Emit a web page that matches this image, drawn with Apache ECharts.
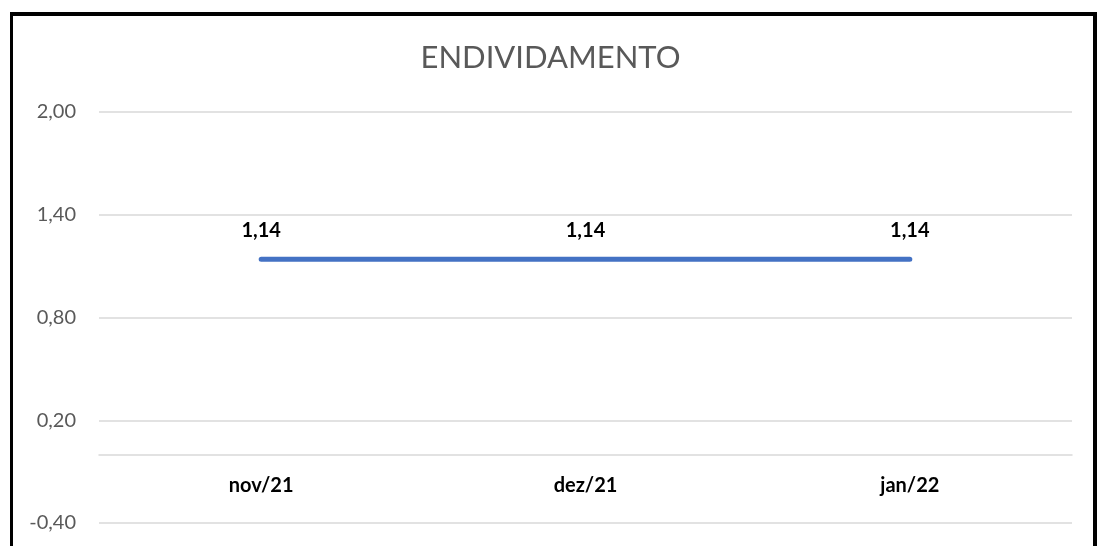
<!DOCTYPE html>
<html>
<head>
<meta charset="utf-8">
<script src="https://cdn.jsdelivr.net/npm/echarts@6/dist/echarts.min.js"></script>
<style>
html,body{margin:0;padding:0;background:#fff;overflow:hidden;}
#chart{position:absolute;left:0;top:0;width:1101px;height:546px;}
#frame{position:absolute;left:10px;top:12px;width:1087px;height:560px;border:4px solid #000;border-left-width:3px;box-sizing:border-box;pointer-events:none;}
</style>
</head>
<body>
<div id="chart"></div>
<div id="frame"></div>
<script>
const title = 'ENDIVIDAMENTO';
const categories = ['nov/21', 'dez/21', 'jan/22'];
const values = [1.14, 1.14, 1.14];
const yMin = -0.4, yMax = 2.0, yInterval = 0.6;

const fmt = v => v.toFixed(2).replace('.', ',');
const FONT = 'Lato, "Open Sans", sans-serif';

const chart = echarts.init(document.getElementById('chart'), null, {renderer: 'canvas'});
chart.setOption({
  animation: false,
  backgroundColor: '#ffffff',
  title: {
    text: title, left: 'center', top: 37,
    textStyle: {fontFamily: FONT, fontSize: 31, fontWeight: 'normal', color: '#595959'}
  },
  grid: {left: 99, right: 29, top: 112, bottom: 23, containLabel: false, outerBoundsMode: 'none'},
  xAxis: {
    type: 'category', data: categories, boundaryGap: true,
    axisLine: {show: true, onZero: true, lineStyle: {color: '#d9d9d9', width: 1.5}},
    axisTick: {show: false},
    axisLabel: {fontFamily: FONT, fontSize: 20, fontWeight: 'bold', color: '#000', margin: -47}
  },
  yAxis: {
    type: 'value', min: yMin, max: yMax, interval: yInterval,
    axisLine: {show: false}, axisTick: {show: false},
    axisLabel: {fontFamily: FONT, fontSize: 20, color: '#595959', margin: 23, formatter: fmt},
    splitLine: {lineStyle: {color: '#d9d9d9', width: 1.5}}
  },
  series: [{
    type: 'line', data: values, symbol: 'circle', symbolSize: 1, showSymbol: true,
    itemStyle: {color: '#4472c4'},
    lineStyle: {color: '#4472c4', width: 5, cap: 'round'},
    label: {show: true, position: 'top', distance: 18, formatter: p => fmt(p.value),
      fontFamily: FONT, fontSize: 20, fontWeight: 'bold', color: '#000'}
  }]
});
</script>
</body>
</html>
